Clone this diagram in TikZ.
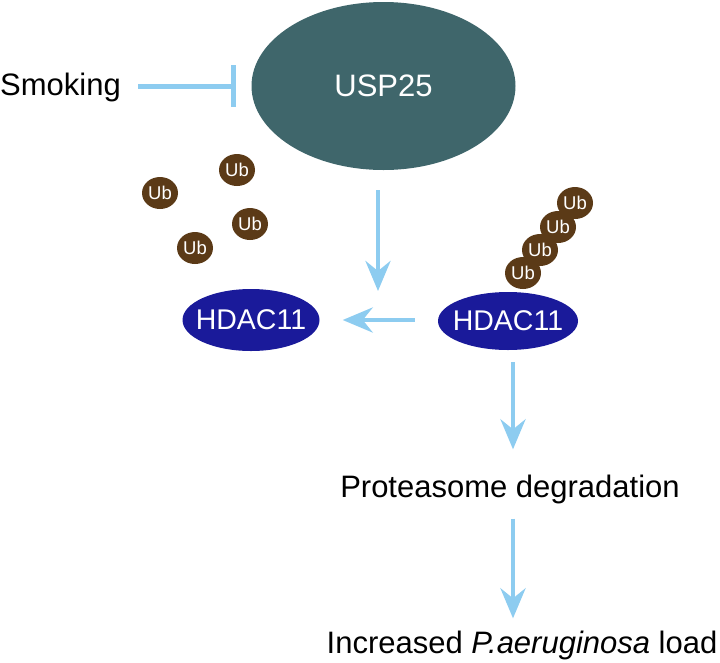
\documentclass[tikz,border=0pt]{standalone}
\usepackage{fontspec}
\setmainfont{Liberation Sans}
\usetikzlibrary{arrows.meta,shapes.geometric}
\definecolor{arrblue}{HTML}{8DCCF0}
\definecolor{uspcol}{HTML}{3F666B}
\definecolor{hdaccol}{HTML}{1A1A9A}
\definecolor{ubcol}{HTML}{5B3A17}
\tikzset{
  lbl/.style={inner sep=0pt, font=\fontsize{31}{36}\selectfont, text=black},
  usp/.style={ellipse, fill=uspcol, inner sep=0pt, minimum width=264pt, minimum height=168pt,
     text=white, font=\fontsize{31}{36}\selectfont},
  hdac/.style={ellipse, fill=hdaccol, inner xsep=-14pt, inner ysep=0pt, minimum width=137pt, minimum height=62pt,
     text=white, font=\fontsize{28.5}{32}\selectfont},
  ub/.style={ellipse, fill=ubcol, inner sep=-1pt, minimum width=36pt, minimum height=32pt,
     text=white, font=\fontsize{18.5}{20}\selectfont},
  arr/.style={draw=arrblue, line width=4.5pt, -{Stealth[length=30pt, width=25pt, inset=10pt]}},
  inh/.style={draw=arrblue, line width=5pt, -{Bar[width=42pt]}},
}
\begin{document}
\begin{tikzpicture}[x=1pt, y=-1pt]
\useasboundingbox (0,0) rectangle (720,662);
% nodes
\node[usp] (usp) at (383.5,86) {USP25};
\node[lbl, anchor=base west] (smoking) at (0,95) {Smoking};
\node[hdac] (hdacL) at (251,320) {HDAC11};
\node[hdac, minimum width=140pt, minimum height=58pt] (hdacR) at (508,321) {HDAC11};
\node[lbl, anchor=base] (deg) at (510,497) {Proteasome degradation};
\node[lbl, anchor=base] (load) at (522,653) {Increased \textit{P.aeruginosa} load};
% free ubiquitins
\node[ub] (u1) at (160,193) {Ub};
\node[ub] (u2) at (237,170) {Ub};
\node[ub] (u3) at (250,224) {Ub};
\node[ub] (u4) at (195,248) {Ub};
% ubiquitin chain
\node[ub] (c1) at (575,203) {Ub};
\node[ub] (c2) at (558,227) {Ub};
\node[ub] (c3) at (540,250) {Ub};
\node[ub] (c4) at (523,273) {Ub};
% connectors
\draw[inh, shorten <=17pt, shorten >=15pt] (smoking.east |- usp.center) -- (usp.west);
\coordinate (conv) at (378,291);
\draw[arr] (usp.south -| conv) ++(0,20) -- (conv);
\draw[arr, shorten <=23pt, shorten >=23pt] (hdacR.west |- hdacL.east) -- (hdacL.east);
\draw[arr, shorten <=12pt, shorten >=25pt] (hdacR.south -| 513,0) -- (deg.north -| 513,0);
\draw[arr, shorten <=15pt, shorten >=12pt] (deg.south -| 513,0) -- (load.north -| 513,0);
\end{tikzpicture}
\end{document}
